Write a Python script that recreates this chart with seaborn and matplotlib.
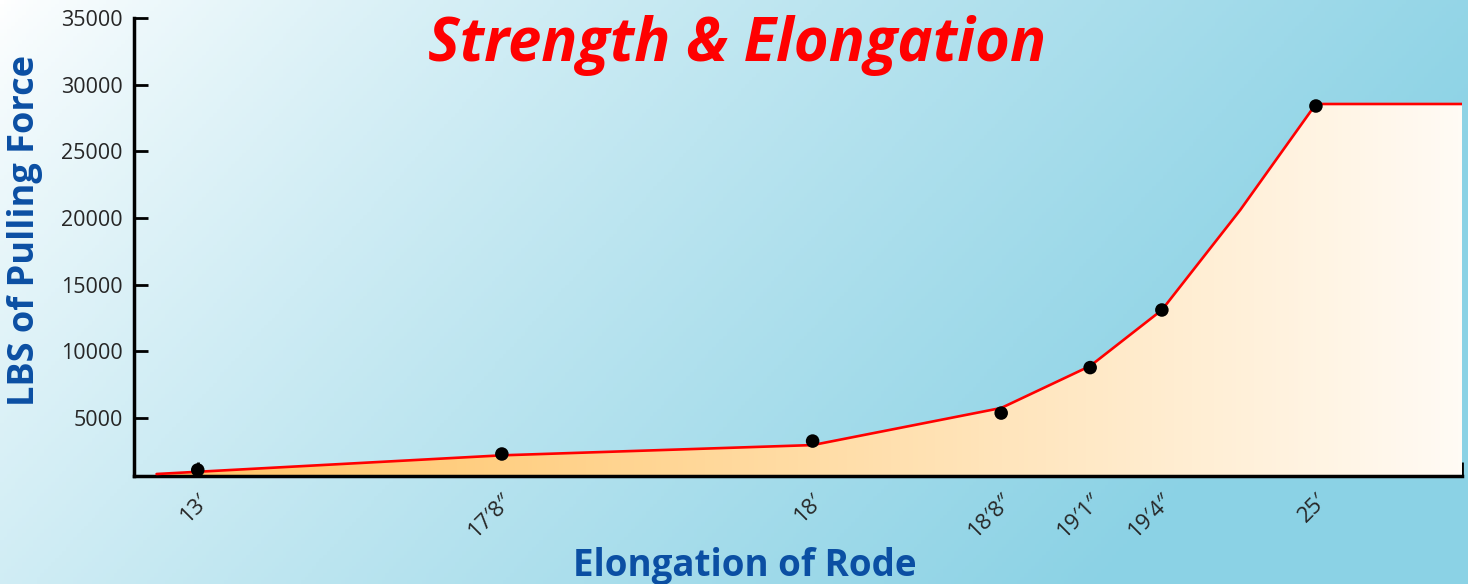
import numpy as np
import matplotlib.pyplot as plt
import matplotlib.colors as mcolors
import pandas as pd
import seaborn as sns

# positions along the x axis (0-100, axis is not linear in length)
line_x = [1.7, 27.7, 51.1, 65.3, 72.0, 77.4, 83.3, 89.0, 100.0]
line_y = [800, 2200, 2970, 5750, 8900, 13100, 20600, 28550, 28550]

point_x = [4.8, 27.7, 51.1, 65.3, 72.0, 77.4, 89.0]
point_y = [1100, 2300, 3270, 5370, 8780, 13100, 28400]

tick_labels = ["13\u2032", "17\u20328\u2033", "18\u2032", "18\u20328\u2033",
               "19\u20321\u2033", "19\u20324\u2033", "25\u2032"]
y_ticks = [5000, 10000, 15000, 20000, 25000, 30000, 35000]

sns.set_style("ticks")
plt.rcParams['font.family'] = ['Open Sans', 'DejaVu Sans']

fig = plt.figure(figsize=(14.68, 5.84), dpi=100)

# background gradient, white top-left to light blue on the right
bg = fig.add_axes([0, 0, 1, 1], zorder=-1)
gx, gy = np.meshgrid(np.linspace(0, 1, 400), np.linspace(0, 1, 160))
t = np.clip(gx * 0.9 + gy * 0.32, 0, 1) ** 0.8
c0 = np.array(mcolors.to_rgb("#ffffff"))
c1 = np.array(mcolors.to_rgb("#8bd2e5"))
bg.imshow(c0 + (c1 - c0) * t[..., None], extent=[0, 1, 0, 1], aspect="auto", origin="upper")
bg.axis("off")

ax = fig.add_axes([134 / 1468, 1 - 476 / 584, 1328 / 1468, 458 / 584])
ax.patch.set_alpha(0)

df_line = pd.DataFrame({"x": line_x, "y": line_y})
df_pts = pd.DataFrame({"x": point_x, "y": point_y})

# orange gradient fill under the curve
poly = ax.fill_between(df_line["x"], df_line["y"], 0, color="none", lw=0)
fx = np.linspace(0, 1, 300)
f0 = np.array(mcolors.to_rgb("#ffc466"))
f1 = np.array(mcolors.to_rgb("#fffbf5"))
grad = f0 + (f1 - f0) * (fx ** 1.2)[:, None]
im = ax.imshow(grad[None, :, :], extent=[0, 100, 0, 35000], aspect="auto", zorder=1)
path = poly.get_paths()[0]
im.set_clip_path(path, transform=ax.transData)

sns.lineplot(data=df_line, x="x", y="y", color="#ff0000", lw=1.9, ax=ax, zorder=3)
sns.scatterplot(data=df_pts, x="x", y="y", color="black", s=95, edgecolor="none", ax=ax, zorder=4)

ax.set_xlim(0, 100)
ax.set_ylim(650, 35000)
ax.set_xticks(point_x + [100.0])
ax.set_xticklabels(tick_labels + [""], rotation=45, ha="right", va="top",
                   rotation_mode="anchor", fontsize=16)
ax.set_yticks(y_ticks)
ax.set_yticklabels([str(v) for v in y_ticks], fontsize=15.5)
ax.tick_params(axis="both", direction="in", length=10, width=2, color="black", pad=8)
ax.tick_params(axis="x", pad=10)

for side in ["top", "right"]:
    ax.spines[side].set_visible(False)
for side in ["left", "bottom"]:
    ax.spines[side].set_linewidth(2.5)
    ax.spines[side].set_color("black")

ax.set_xlabel("")
ax.set_ylabel("")
fig.text(25 / 1468, 1 - 230 / 584, "LBS of Pulling Force", rotation=90,
         ha="center", va="center", color="#0b4fa3", fontsize=26, fontweight="bold")
fig.text(745 / 1468, 1 - 566 / 584, "Elongation of Rode",
         ha="center", va="center", color="#0b4fa3", fontsize=26.5, fontweight="bold")
fig.text(737 / 1468, 1 - 46 / 584, "Strength & Elongation",
         ha="center", va="center", color="#ff0000", fontsize=43,
         fontweight="bold", fontstyle="italic")

fig.savefig("out.png", dpi=100)
